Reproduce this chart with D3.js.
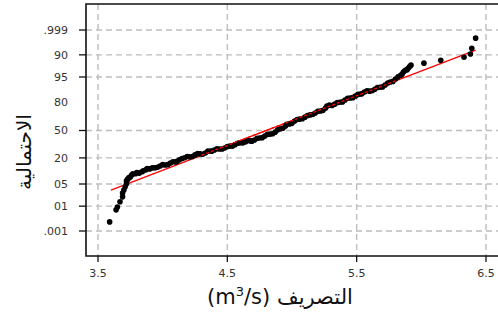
<!DOCTYPE html>
<html>
<head>
<meta charset="utf-8">
<script src="https://cdn.jsdelivr.net/npm/d3@7"></script>
<style>
  body { margin: 0; background: #fff; }
  svg { display: block; }
</style>
</head>
<body>
<div id="chart"></div>
<script>
// Normal probability plot of discharge. y values are normal scores (z)
let discharge = [3.59, 3.64, 3.65, 3.67, 3.69, 3.69, 3.70, 3.71, 3.72, 3.72,
    3.73, 3.75, 3.76, 3.79, 3.81, 3.84, 3.87, 3.90, 3.94, 3.98,
    4.02, 4.06, 4.10, 4.13, 4.17, 4.21, 4.25, 4.29, 4.33, 4.37,
    4.40, 4.44, 4.48, 4.52, 4.56, 4.60, 4.64, 4.68, 4.71, 4.75,
    4.79, 4.83, 4.87, 4.91, 4.95, 4.98, 5.02, 5.06, 5.10, 5.14,
    5.18, 5.22, 5.26, 5.29, 5.33, 5.37, 5.41, 5.45, 5.49, 5.53,
    5.56, 5.60, 5.64, 5.68, 5.72, 5.76, 5.80, 5.84, 5.86, 5.88,
    5.90, 5.92, 6.02, 6.15, 6.33, 6.38, 6.39, 6.42,
    3.73, 3.74, 3.77, 3.80, 3.82, 3.85, 3.88, 3.92, 3.96, 4.00,
    4.04, 4.08, 4.11, 4.15, 4.19, 4.23, 4.27, 4.31, 4.35, 4.38,
    4.42, 4.46, 4.50, 4.54, 4.58, 4.62, 4.66, 4.69, 4.73, 4.77,
    4.81, 4.85, 4.89, 4.93, 4.96, 5.00, 5.04, 5.08, 5.12, 5.16,
    5.20, 5.24, 5.27, 5.31, 5.35, 5.39, 5.43, 5.47, 5.51, 5.54,
    5.58, 5.62, 5.66, 5.70, 5.74, 5.78, 5.82, 5.85, 5.87, 5.89, 5.91];
let score = [-2.81, -2.44, -2.35, -2.19, -2.04, -1.92, -1.83, -1.73, -1.64, -1.55,
    -1.49, -1.43, -1.37, -1.33, -1.30, -1.27, -1.21, -1.18, -1.15, -1.09,
    -1.06, -1.00, -0.97, -0.90, -0.84, -0.81, -0.75, -0.72, -0.69, -0.63,
    -0.60, -0.57, -0.54, -0.48, -0.44, -0.38, -0.35, -0.32, -0.29, -0.23,
    -0.17, -0.11, -0.05, 0.05, 0.14, 0.20, 0.29, 0.35, 0.41, 0.48,
    0.54, 0.60, 0.69, 0.78, 0.81, 0.87, 0.94, 1.00, 1.06, 1.12,
    1.18, 1.21, 1.27, 1.33, 1.40, 1.49, 1.58, 1.70, 1.79, 1.86,
    1.92, 2.01, 2.07, 2.16, 2.25, 2.35, 2.53, 2.84,
    -1.50, -1.45, -1.33, -1.29, -1.31, -1.24, -1.17, -1.15, -1.13, -1.05,
    -1.05, -0.96, -0.95, -0.86, -0.80, -0.80, -0.71, -0.73, -0.63, -0.64,
    -0.56, -0.57, -0.49, -0.48, -0.39, -0.38, -0.31, -0.33, -0.24, -0.22,
    -0.12, -0.10, 0.02, 0.07, 0.19, 0.22, 0.34, 0.36, 0.46, 0.49,
    0.59, 0.62, 0.75, 0.77, 0.86, 0.88, 0.99, 1.01, 1.11, 1.13,
    1.22, 1.22, 1.32, 1.34, 1.46, 1.51, 1.65, 1.72, 1.83, 1.87, 1.97];

// fitted line end points
let fitX = [3.60, 6.42];
let fitZ = [-1.83, 2.47];

// axis ticks
let xTicks = [3.5, 4.5, 5.5, 6.5];
let yTickZ = [3.09, 2.326, 1.645, 0.88, 0, -0.842, -1.645, -2.326, -3.09];
let yTickLabels = [".999", "90", "95", "80", "50", "20", "05", "01", ".001"];
let yGridZ = [3.09, 2.326, 1.645, 0, -0.842, -1.645, -2.326, -3.09];

let width = 498,
    height = 322;
let plot = {left: 86, top: 4, right: 520, bottom: 256};

let svg = d3.select("#chart")
    .append("svg")
    .attr("width", width)
    .attr("height", height);

let x = d3.scaleLinear().domain([3.5, 6.5]).range([98, 486]);
let y = d3.scaleLinear().domain([0, 3.09]).range([130.5, 30]);

// grid
svg.append("g").selectAll("line").data(xTicks).enter().append("line")
    .attr("x1", d => x(d)).attr("x2", d => x(d))
    .attr("y1", plot.top).attr("y2", plot.bottom)
    .attr("stroke", "#bdbdbd").attr("stroke-width", 1.4)
    .attr("stroke-dasharray", "6,4");
svg.append("g").selectAll("line").data(yGridZ).enter().append("line")
    .attr("x1", plot.left).attr("x2", plot.right)
    .attr("y1", d => y(d)).attr("y2", d => y(d))
    .attr("stroke", "#bdbdbd").attr("stroke-width", 1.4)
    .attr("stroke-dasharray", "6,4");

// frame (right edge runs off the picture)
svg.append("path")
    .attr("d", `M${plot.right},${plot.top}H${plot.left}V${plot.bottom}H${plot.right}`)
    .attr("fill", "none").attr("stroke", "#111").attr("stroke-width", 1.6);

// y ticks and labels
let yAxis = svg.append("g");
yAxis.selectAll("line").data(yGridZ).enter().append("line")
    .attr("x1", plot.left - 7).attr("x2", plot.left)
    .attr("y1", d => y(d)).attr("y2", d => y(d))
    .attr("stroke", "#111").attr("stroke-width", 1.3);
yAxis.selectAll("text").data(yTickZ).enter().append("text")
    .attr("x", 68).attr("y", d => y(d))
    .attr("dy", "0.35em")
    .attr("text-anchor", "end")
    .style("font-family", "DejaVu Sans")
    .style("font-size", "11px")
    .attr("fill", "#333")
    .text((d, i) => yTickLabels[i]);

// x ticks and labels
let xAxis = svg.append("g");
xAxis.selectAll("line").data(xTicks).enter().append("line")
    .attr("x1", d => x(d)).attr("x2", d => x(d))
    .attr("y1", plot.bottom).attr("y2", plot.bottom + 6)
    .attr("stroke", "#111").attr("stroke-width", 1.3);
xAxis.selectAll("text").data(xTicks).enter().append("text")
    .attr("x", d => x(d)).attr("y", 273)
    .attr("dy", "0.35em")
    .attr("text-anchor", "middle")
    .style("font-family", "DejaVu Sans")
    .style("font-size", "11px")
    .attr("fill", "#333")
    .text(d => d3.format(".1f")(d));

// fitted line
svg.append("line")
    .attr("x1", x(fitX[0])).attr("y1", y(fitZ[0]))
    .attr("x2", x(fitX[1])).attr("y2", y(fitZ[1]))
    .attr("stroke", "#ff0000").attr("stroke-width", 1.3);

// points
svg.append("g").selectAll("circle").data(discharge).enter().append("circle")
    .attr("cx", d => x(d))
    .attr("cy", (d, i) => y(score[i]))
    .attr("r", 2.8)
    .attr("fill", "#000");

// redraw fitted line segments on top where it crosses the band
svg.append("line")
    .attr("x1", x(4.3)).attr("y1", y(fitZ[0] + (4.3 - fitX[0]) * (fitZ[1] - fitZ[0]) / (fitX[1] - fitX[0])))
    .attr("x2", x(5.8)).attr("y2", y(fitZ[0] + (5.8 - fitX[0]) * (fitZ[1] - fitZ[0]) / (fitX[1] - fitX[0])))
    .attr("stroke", "#ff0000").attr("stroke-width", 1.3)
    .attr("stroke-dasharray", "3,2");

// axis titles
let xTitle = svg.append("text")
    .attr("x", 280).attr("y", 304)
    .attr("text-anchor", "middle")
    .style("font-family", "DejaVu Sans")
    .style("font-size", "21px")
    .attr("fill", "#111");
xTitle.append("tspan").text("(m");
xTitle.append("tspan").attr("dy", -8).style("font-size", "13px").text("3");
xTitle.append("tspan").attr("dy", 8).text("/s) التصريف");

svg.append("text")
    .attr("transform", "translate(31, 152) rotate(-90)")
    .attr("text-anchor", "middle")
    .style("font-family", "DejaVu Sans")
    .style("font-size", "20px")
    .attr("fill", "#111")
    .text("الاحتمالية");
</script>
</body>
</html>
